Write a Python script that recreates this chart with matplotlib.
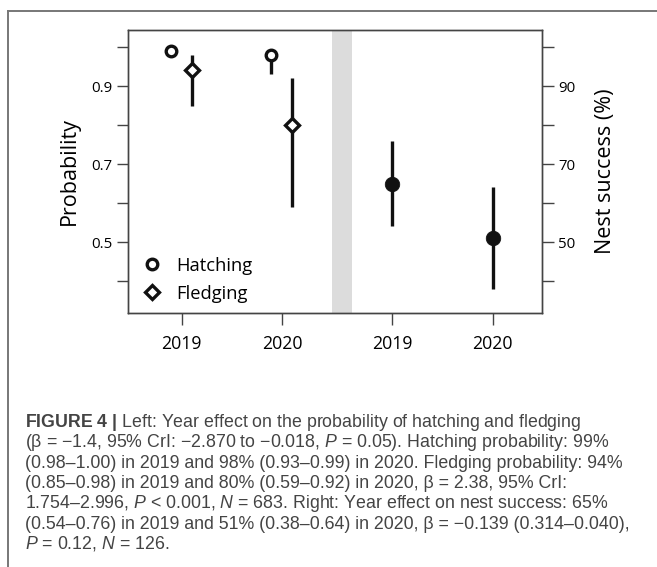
import matplotlib.pyplot as plt
from matplotlib.lines import Line2D

plt.rcParams['font.family'] = 'Open Sans'
plt.rcParams['mathtext.fontset'] = 'custom'
plt.rcParams['mathtext.rm'] = 'Liberation Sans'
plt.rcParams['mathtext.it'] = 'Liberation Sans:italic'
plt.rcParams['mathtext.bf'] = 'Liberation Sans:bold'

# posterior means and 95% CrI
years = ['2019', '2020']
hatch_mean = [0.99, 0.98]
hatch_lo = [0.98, 0.93]
hatch_hi = [1.00, 0.99]
fledge_mean = [0.94, 0.80]
fledge_lo = [0.85, 0.59]
fledge_hi = [0.98, 0.92]
# nest success (%)
nest_mean = [65, 51]
nest_lo = [54, 38]
nest_hi = [76, 64]

caption = [
    r"$\mathbf{FIGURE\ 4\ |}$ Left: Year effect on the probability of hatching and fledging",
    r"(β = −1.4, 95% CrI: −2.870 to −0.018, $\mathit{P}$ = 0.05). Hatching probability: 99%",
    "(0.98–1.00) in 2019 and 98% (0.93–0.99) in 2020. Fledging probability: 94%",
    "(0.85–0.98) in 2019 and 80% (0.59–0.92) in 2020, β = 2.38, 95% CrI:",
    r"1.754–2.996, $\mathit{P}$ < 0.001, $\mathit{N}$ = 683. Right: Year effect on nest success: 65%",
    "(0.54–0.76) in 2019 and 51% (0.38–0.64) in 2020, β = −0.139 (0.314–0.040),",
    r"$\mathit{P}$ = 0.12, $\mathit{N}$ = 126.",
]

W, H = 657, 567
fig = plt.figure(figsize=(W / 100, H / 100), dpi=100)
ax = fig.add_axes([128 / W, 1 - 313 / H, (542 - 128) / W, (313 - 30) / H])

left_pos = [1, 2]
right_pos = [3.1, 4.1]
ink = '#111111'
lw = 2.4

ax.axvspan(2.5, 2.7, color='#dcdcdc', lw=0, zorder=0)

hx = [p - 0.11 for p in left_pos]
fx = [p + 0.1 for p in left_pos]
ax.vlines(hx, hatch_lo, hatch_hi, color=ink, lw=lw, zorder=2)
ax.vlines(fx, fledge_lo, fledge_hi, color=ink, lw=lw, zorder=2)
ax.plot(hx, hatch_mean, 'o', ms=7.6, mfc='white', mec=ink, mew=2.4, ls='none', zorder=3)
ax.plot(fx, fledge_mean, 'D', ms=7.2, mfc='white', mec=ink, mew=2.4, ls='none', zorder=3)

ax.set_xlim(0.465, 4.592)
ax.set_ylim(0.318, 1.0436)
ax.set_xticks(left_pos + right_pos)
ax.set_xticklabels(years + years, fontsize=12.8)
ax.set_yticks([0.4, 0.5, 0.6, 0.7, 0.8, 0.9, 1.0])
ax.set_yticklabels(['', '0.5', '', '0.7', '', '0.9', ''], fontsize=10.8)
ax.tick_params(axis='x', length=8.5, width=1, color='#444444', pad=7)
ax.tick_params(axis='y', length=8, width=1, color='#444444', pad=3)
ax.set_ylabel('Probability', fontsize=15.5, labelpad=8)
for s in ax.spines.values():
    s.set_color('#444444')
    s.set_linewidth(1)

ax2 = ax.twinx()
ax2.set_ylim(31.8, 104.36)
ax2.vlines(right_pos, nest_lo, nest_hi, color=ink, lw=lw, zorder=2)
ax2.plot(right_pos, nest_mean, 'o', ms=10.5, mfc=ink, mec=ink, mew=0.5, ls='none', zorder=3)
ax2.set_yticks([40, 50, 60, 70, 80, 90, 100])
ax2.set_yticklabels(['', '50', '', '70', '', '90', ''], fontsize=10.8)
ax2.tick_params(axis='y', length=8.5, width=1, color='#444444', pad=3)
ax2.set_ylabel('Nest success (%)', fontsize=15.5, labelpad=14)
for s in ax2.spines.values():
    s.set_color('#444444')
    s.set_linewidth(1)

handles = [
    Line2D([], [], marker='o', ms=7.6, mfc='white', mec=ink, mew=2.4, ls='none'),
    Line2D([], [], marker='D', ms=7.2, mfc='white', mec=ink, mew=2.4, ls='none'),
]
ax.legend(handles, ['Hatching', 'Fledging'], loc='lower left', bbox_to_anchor=(0.012, 0.0),
          frameon=False, fontsize=13.2, handlelength=1.0, handletextpad=0.8,
          labelspacing=0.55, borderaxespad=0.15)

# frame around the figure panel
fig.add_artist(Line2D([8 / W, 1], [1 - 11 / H, 1 - 11 / H], transform=fig.transFigure,
                      color='#777777', lw=1.4))
fig.add_artist(Line2D([8 / W, 8 / W], [1 - 11 / H, 0], transform=fig.transFigure,
                      color='#777777', lw=1.4))

for i, line in enumerate(caption):
    fig.text(25 / W, 1 - (427 + i * 20.33) / H, line, va='baseline', ha='left',
             fontsize=12.8, family='Liberation Sans', color='#444444')

fig.savefig('out.png', dpi=100)
